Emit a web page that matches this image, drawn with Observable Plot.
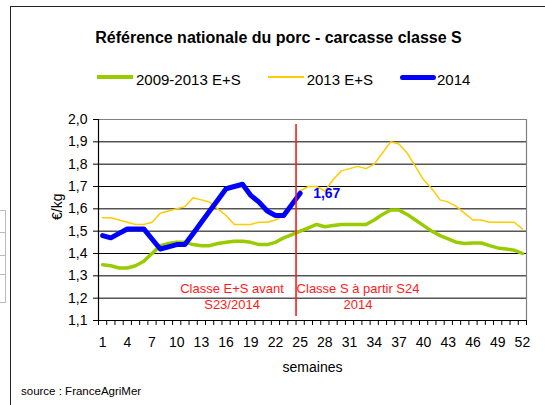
<!DOCTYPE html>
<html>
<head>
<meta charset="utf-8">
<script src="https://cdn.jsdelivr.net/npm/d3@7"></script>
<script src="https://cdn.jsdelivr.net/npm/@observablehq/plot@0.6"></script>
<style>
  html, body { margin: 0; padding: 0; background: #fff; }
  body { font-family: "Liberation Sans", Arial, sans-serif; }
  #wrap { position: relative; width: 545px; height: 405px; overflow: hidden; background: #fff; }
  #chart { position: absolute; left: 0; top: 0; }
  .abs { position: absolute; }
  #frame { left: 10px; top: 6px; width: 540px; height: 405px; border-top: 1px solid #222; border-left: 1px solid #222; }
  #title { left: 12px; width: 533px; top: 28px; text-align: center; font-weight: bold; font-size: 16px; line-height: 20px; color: #000; }
  #legend { left: 97px; top: 69px; height: 20px; display: flex; align-items: center; font-size: 15px; color: #000; }
  .item { display: flex; align-items: center; margin-right: 27px; }
  .sw { width: 36px; margin-right: 3px; position: relative; top: -2px; }
  #source { left: 21px; top: 384px; font-size: 11.5px; line-height: 14px; color: #000; }
  .ghost { position: absolute; left: -2px; width: 6px; border: 1px solid #bbb; }
</style>
</head>
<body>
<div id="wrap">
  <div id="chart"></div>
  <div class="abs" id="frame"></div>
  <div class="ghost" style="top:210px;height:21px"></div>
  <div class="ghost" style="top:232px;height:22px"></div>
  <div class="ghost" style="top:255px;height:18px"></div>
  <div class="ghost" style="top:274px;height:27px"></div>
  <div class="abs" id="title">Référence nationale du porc - carcasse classe S</div>
  <div class="abs" id="legend"></div>
  <div class="abs" id="source">source : FranceAgriMer</div>
</div>
<script>
// ---- data ----
const seriesNames = ["2009-2013 E+S", "2013 E+S", "2014"];
const seriesColors = ["#99cc00", "#ffcc00", "#0000ff"];
const seriesWidths = [3.5, 1.5, 5];

const avg0913 = [1.35, 1.345, 1.335, 1.335, 1.345, 1.365, 1.40, 1.435, 1.445, 1.45,
  1.45, 1.44, 1.435, 1.435, 1.445, 1.45, 1.455, 1.455, 1.45, 1.44,
  1.44, 1.45, 1.47, 1.485, 1.50, 1.515, 1.53, 1.52, 1.525, 1.53,
  1.53, 1.53, 1.53, 1.55, 1.575, 1.595, 1.595, 1.575, 1.55, 1.525,
  1.50, 1.48, 1.465, 1.45, 1.445, 1.447, 1.447, 1.435, 1.425, 1.42,
  1.415, 1.40];
const y2013 = [1.56, 1.56, 1.55, 1.54, 1.53, 1.53, 1.54, 1.58, 1.59, 1.60,
  1.61, 1.65, 1.64, 1.63, 1.60, 1.57, 1.53, 1.53, 1.53, 1.54,
  1.54, 1.55, 1.57, 1.62, 1.68, 1.70, 1.70, 1.68, 1.73, 1.77,
  1.78, 1.79, 1.78, 1.80, 1.85, 1.90, 1.89, 1.85, 1.79, 1.73,
  1.69, 1.64, 1.63, 1.61, 1.58, 1.55, 1.55, 1.54, 1.54, 1.54,
  1.54, 1.51];
const y2014 = [1.48, 1.47, 1.49, 1.51, 1.51, 1.51, 1.465, 1.42, 1.43, 1.44,
  1.44, 1.49, 1.54, 1.59, 1.64, 1.69, 1.70, 1.71, 1.66, 1.63,
  1.59, 1.57, 1.57, 1.62, 1.67];

const yTicks = [1.1, 1.2, 1.3, 1.4, 1.5, 1.6, 1.7, 1.8, 1.9, 2.0];
const xLabelWeeks = [1, 4, 7, 10, 13, 16, 19, 22, 25, 28, 31, 34, 37, 40, 43, 46, 49, 52];
const weekBoundaries = d3.range(0, 53).map(i => i + 0.5);
const dividerWeek = 24.5;
const leftNote = ["Classe E+S avant", "S23/2014"];
const rightNote = ["Classe S à partir S24", "2014"];
const xTitle = "semaines";
const yTitle = "€/kg";

// ---- build ----
const toRows = arr => arr.map((v, i) => ({week: i + 1, value: v}));
const rows = [toRows(avg0913), toRows(y2013), toRows(y2014)];
const fmt = d => d.toFixed(1).replace(".", ",");
const fmt2 = v => v.toFixed(2).replace(".", ",");
const last2014 = rows[2][rows[2].length - 1];
const font = '"Liberation Sans", Arial, sans-serif';

const chart = Plot.plot({
  width: 545,
  height: 405,
  marginTop: 119,
  marginBottom: 85,
  marginLeft: 98,
  marginRight: 19,
  style: {fontFamily: font, fontSize: "14px", color: "#000", background: "transparent", overflow: "visible"},
  x: {domain: [0.5, 52.5], axis: null},
  y: {domain: [1.1, 2.0], axis: null},
  marks: [
    Plot.gridY(yTicks.filter(d => d > 1.1 && d < 2.0), {stroke: "#000", strokeOpacity: 1, strokeWidth: 1}),
    Plot.ruleY([2.0], {stroke: "#808080", strokeWidth: 1.2}),
    Plot.ruleX([52.5], {stroke: "#808080", strokeWidth: 1.2}),
    ...rows.map((r, i) => Plot.line(r, {x: "week", y: "value", stroke: seriesColors[i], strokeWidth: seriesWidths[i], strokeLinejoin: "round", strokeLinecap: "round"})),
    Plot.ruleX([dividerWeek], {y1: 1.1, y2: 2.0, stroke: "#ff1a1a", strokeWidth: 1.6, insetTop: -4, insetBottom: -5}),
    Plot.ruleX([0.5], {stroke: "#000", strokeWidth: 1.2}),
    Plot.ruleY([1.1], {stroke: "#000", strokeWidth: 1.2}),
    Plot.axisY(yTicks, {tickSize: 5, tickPadding: 6, tickFormat: fmt, fontSize: 14, label: null}),
    Plot.axisX(weekBoundaries, {tickSize: 5, tickFormat: () => "", label: null}),
    Plot.axisX(xLabelWeeks, {tickSize: 0, tickPadding: 17, fontSize: 14, label: null}),
    Plot.text([last2014], {x: "week", y: "value", text: d => fmt2(d.value), dx: 13, textAnchor: "start", fill: "#0000ff", fontWeight: "bold", fontSize: 14}),
    Plot.text([dividerWeek], {x: d => d, text: () => leftNote[0], frameAnchor: "bottom", dx: -64, dy: -28, fill: "#ff1a1a", fontSize: 13}),
    Plot.text([dividerWeek], {x: d => d, text: () => leftNote[1], frameAnchor: "bottom", dx: -64, dy: -11.5, fill: "#ff1a1a", fontSize: 13}),
    Plot.text([dividerWeek], {x: d => d, text: () => rightNote[0], frameAnchor: "bottom", dx: 62, dy: -28, fill: "#ff1a1a", fontSize: 13}),
    Plot.text([dividerWeek], {x: d => d, text: () => rightNote[1], frameAnchor: "bottom", dx: 62, dy: -11.5, fill: "#ff1a1a", fontSize: 13}),
    Plot.text([yTitle], {frameAnchor: "left", rotate: -90, dx: -41, fontSize: 14}),
    Plot.text([xTitle], {frameAnchor: "bottom", dy: 51, fontSize: 14})
  ]
});
document.getElementById("chart").appendChild(chart);

// legend
const legend = document.getElementById("legend");
seriesNames.forEach((name, i) => {
  const item = document.createElement("div");
  item.className = "item";
  const sw = document.createElement("span");
  sw.className = "sw";
  sw.style.height = seriesWidths[i] + "px";
  sw.style.background = seriesColors[i];
  sw.style.borderRadius = i === 2 ? "3px" : "0";
  if (i === 2) sw.style.marginRight = "1px";
  const t = document.createElement("span");
  t.textContent = name;
  item.appendChild(sw);
  item.appendChild(t);
  legend.appendChild(item);
});
</script>
</body>
</html>
